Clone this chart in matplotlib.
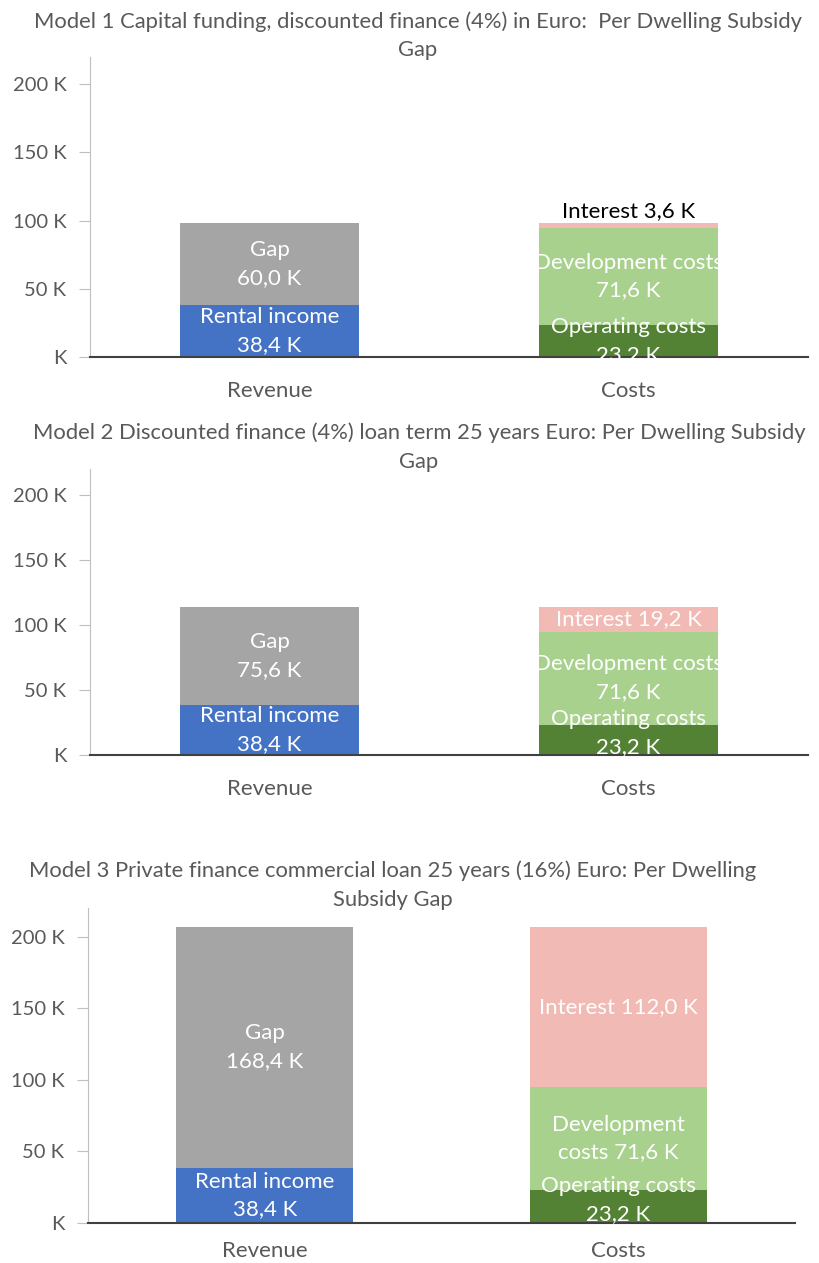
import matplotlib
matplotlib.use("Agg")
import matplotlib.pyplot as plt
from matplotlib.ticker import FuncFormatter, FixedLocator

categories = ["Revenue", "Costs"]
titles = [
    "Model 1 Capital funding, discounted finance (4%) in Euro:  Per Dwelling Subsidy\nGap",
    "Model 2 Discounted finance (4%) loan term 25 years Euro: Per Dwelling Subsidy\nGap",
    "Model 3 Private finance commercial loan 25 years (16%) Euro: Per Dwelling\nSubsidy Gap",
]
# values in thousands of euro
rental_income = [38.4, 38.4, 38.4]
gap = [60.0, 75.6, 168.4]
operating_costs = [23.2, 23.2, 23.2]
development_costs = [71.6, 71.6, 71.6]
interest = [3.6, 19.2, 112.0]
yticks = [0, 50, 100, 150, 200]

C_BLUE = "#4472C4"
C_GRAY = "#A5A5A5"
C_DKGREEN = "#548235"
C_LTGREEN = "#A9D18E"
C_PINK = "#F2BAB4"
TXT = "#595959"
FONT = ["Lato", "DejaVu Sans"]
plt.rcParams["font.family"] = FONT

W, H = 819, 1263
fig = plt.figure(figsize=(W / 100, H / 100), dpi=100)

# pixel layout: (left, right, top, bottom, title_center_x, title_y1, title_y2, xlabel_pad, op_label_shift_px)
layout = [
    (90, 808, 57, 357, 418, 22, 50, 17, 0),
    (90, 808, 469, 755, 419, 433, 462, 17, 7),
    (88, 795, 908, 1223, 393, 871, 900, 13, 6),
]

def fmt(v):
    return f"{v:.1f}".replace(".", ",") + " K"

FS = 16
TFS = 15.8
for i, (l, r, t, b, tcx, ty1, ty2, xpad, opshift) in enumerate(layout):
    ax = fig.add_axes([l / W, 1 - b / H, (r - l) / W, (b - t) / H])
    x = [0, 1]
    bw = 0.5
    # Revenue
    ax.bar(0, rental_income[i], width=bw, color=C_BLUE)
    ax.bar(0, gap[i], width=bw, bottom=rental_income[i], color=C_GRAY)
    # Costs
    ax.bar(1, operating_costs[i], width=bw, color=C_DKGREEN)
    ax.bar(1, development_costs[i], width=bw, bottom=operating_costs[i], color=C_LTGREEN)
    ax.bar(1, interest[i], width=bw, bottom=operating_costs[i] + development_costs[i], color=C_PINK)

    ls = 1.5
    ax.text(0, rental_income[i] / 2, "Rental income\n" + fmt(rental_income[i]),
            ha="center", va="center", color="white", fontsize=FS, linespacing=ls)
    ax.text(0, rental_income[i] + gap[i] / 2, "Gap\n" + fmt(gap[i]),
            ha="center", va="center", color="white", fontsize=FS, linespacing=ls)
    ax.annotate("Operating costs\n" + fmt(operating_costs[i]),
                xy=(1, operating_costs[i] / 2), xytext=(0, opshift * 0.72),
                textcoords="offset points",
                ha="center", va="center", color="white", fontsize=FS, linespacing=ls)
    if i < 2:
        dev_lbl = "Development costs\n" + fmt(development_costs[i])
    else:
        dev_lbl = "Development\ncosts " + fmt(development_costs[i])
    ax.text(1, operating_costs[i] + development_costs[i] / 2, dev_lbl,
            ha="center", va="center", color="white", fontsize=FS, linespacing=ls)
    top = operating_costs[i] + development_costs[i]
    if i == 0:
        ax.text(1, top + interest[i] + 1.5, "Interest " + fmt(interest[i]),
                ha="center", va="bottom", color="black", fontsize=FS)
    else:
        ax.text(1, top + interest[i] / 2, "Interest " + fmt(interest[i]),
                ha="center", va="center", color="white", fontsize=FS)

    ax.set_xlim(-0.5, 1.5)
    ax.set_ylim(0, 220)
    ax.yaxis.set_major_locator(FixedLocator(yticks))
    ax.yaxis.set_major_formatter(FuncFormatter(lambda v, p: "K" if v == 0 else f"{v:.0f} K"))
    ax.set_xticks(x)
    ax.set_xticklabels(categories)
    ax.tick_params(axis="x", length=0, pad=xpad, labelsize=FS, labelcolor=TXT)
    ax.tick_params(axis="y", length=8, width=0.8, color="#BFBFBF", pad=9,
                   labelsize=14.5, labelcolor=TXT)
    for s in ["top", "right"]:
        ax.spines[s].set_visible(False)
    ax.spines["left"].set_color("#BFBFBF")
    ax.spines["left"].set_linewidth(0.8)
    ax.spines["bottom"].set_color("#404040")
    ax.spines["bottom"].set_linewidth(1.5)
    ax.set_facecolor("none")

    l1, l2 = titles[i].split("\n")
    fig.text(tcx / W, 1 - ty1 / H, l1, ha="center", va="center", color=TXT, fontsize=TFS)
    fig.text(tcx / W, 1 - ty2 / H, l2, ha="center", va="center", color=TXT, fontsize=TFS)

fig.savefig("out.png", dpi=100, facecolor="white")
